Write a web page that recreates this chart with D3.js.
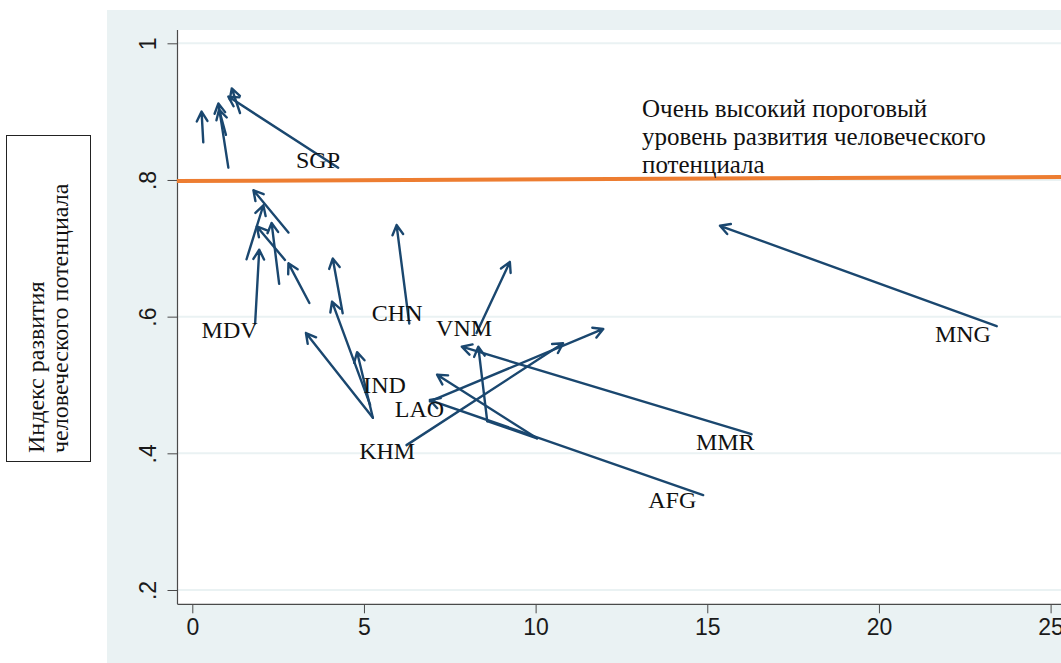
<!DOCTYPE html>
<html>
<head>
<meta charset="utf-8">
<script src="https://cdn.jsdelivr.net/npm/d3@7"></script>
<style>
  html, body { margin: 0; padding: 0; background: #ffffff; }
  svg { display: block; }
</style>
</head>
<body>
<svg id="chart" width="1061" height="663"></svg>
<script>
// ---------- data ----------
const xTicks = [0, 5, 10, 15, 20, 25];
const xTickLabels = ["0", "5", "10", "15", "20", "25"];
const yTicks = [0.2, 0.4, 0.6, 0.8, 1.0];
const yTickLabels = [".2", ".4", ".6", ".8", "1"];

// arrows: tail (x0,y0) -> head (x1,y1)
const arrows = [
  {x0: 0.32, y0: 0.855, x1: 0.27, y1: 0.900},
  {x0: 1.05, y0: 0.818, x1: 0.76, y1: 0.912},
  {x0: 0.98, y0: 0.866, x1: 0.78, y1: 0.903},
  {x0: 4.25, y0: 0.818, x1: 1.05, y1: 0.922},
  {x0: 1.39, y0: 0.898, x1: 1.15, y1: 0.934},
  {x0: 2.80, y0: 0.723, x1: 1.78, y1: 0.785},
  {x0: 1.58, y0: 0.684, x1: 2.07, y1: 0.763},
  {x0: 2.70, y0: 0.683, x1: 1.88, y1: 0.732},
  {x0: 2.53, y0: 0.648, x1: 2.31, y1: 0.737},
  {x0: 1.83, y0: 0.590, x1: 1.95, y1: 0.698},
  {x0: 3.41, y0: 0.620, x1: 2.80, y1: 0.678},
  {x0: 4.38, y0: 0.605, x1: 4.09, y1: 0.685},
  {x0: 6.32, y0: 0.590, x1: 5.95, y1: 0.734},
  {x0: 5.18, y0: 0.471, x1: 4.07, y1: 0.622},
  {x0: 5.26, y0: 0.452, x1: 3.31, y1: 0.576},
  {x0: 5.26, y0: 0.452, x1: 4.80, y1: 0.548},
  {x0: 8.28, y0: 0.576, x1: 9.25, y1: 0.680},
  {x0: 16.29, y0: 0.428, x1: 7.85, y1: 0.556},
  {x0: 8.59, y0: 0.447, x1: 8.33, y1: 0.556},
  {x0: 10.04, y0: 0.422, x1: 7.13, y1: 0.515},
  {x0: 14.88, y0: 0.339, x1: 6.92, y1: 0.478},
  {x0: 6.24, y0: 0.412, x1: 10.80, y1: 0.561},
  {x0: 6.92, y0: 0.476, x1: 11.97, y1: 0.582},
  {x0: 23.43, y0: 0.586, x1: 15.37, y1: 0.733}
];
// plain connecting segments (no head)
const segments = [
  {x0: 10.04, y0: 0.422, x1: 8.59, y1: 0.447}
];

const countries = ["SGP", "MDV", "CHN", "VNM", "IND", "LAO", "KHM", "MMR", "AFG", "MNG"];
const labelX = [3.02, 0.27, 5.23, 7.10, 4.98, 5.90, 4.86, 14.67, 13.28, 21.63];
const labelY = [0.818, 0.569, 0.594, 0.571, 0.489, 0.453, 0.392, 0.405, 0.320, 0.563];

const thresholdLine = {x0: -0.45, y0: 0.7985, x1: 25.8, y1: 0.8045};
const thresholdText = ["Очень высокий пороговый", "уровень развития человеческого", "потенциала"];
const thresholdTextX = 13.1;
const thresholdTextY = 0.892;

const yTitle = ["Индекс развития", "человеческого потенциала"];

// ---------- drawing ----------
const svg = d3.select("#chart");
const W = 1061, H = 663;

const outer = {left: 107, top: 10};
const plot = {left: 177.5, top: 30, right: 1061, bottom: 604.3};

const x = d3.scaleLinear().domain([0, 25]).range([192.3, 1050.6]);
const y = d3.scaleLinear().domain([0.2, 1]).range([590, 43.3]);

// graph region background
svg.append("rect").attr("x", outer.left).attr("y", outer.top)
  .attr("width", W - outer.left).attr("height", H - outer.top)
  .attr("fill", "#eaf2f3");
// plot region
svg.append("rect").attr("x", plot.left).attr("y", plot.top)
  .attr("width", plot.right - plot.left).attr("height", plot.bottom - plot.top)
  .attr("fill", "#ffffff");

// gridlines
svg.append("g").selectAll("line").data(yTicks).join("line")
  .attr("x1", plot.left).attr("x2", plot.right)
  .attr("y1", d => y(d)).attr("y2", d => y(d))
  .attr("stroke", "#eaf2f3").attr("stroke-width", 2);

// axes
const xAxis = d3.axisBottom(x).tickValues(xTicks)
  .tickFormat((d, i) => xTickLabels[i]).tickSize(9).tickPadding(5);
const gx = svg.append("g").attr("transform", `translate(0,${plot.bottom})`).call(xAxis);
gx.select(".domain").remove();
gx.selectAll("line").attr("stroke", "#4a4a4a");
gx.selectAll("text").attr("font-family", "Liberation Sans, Arial, sans-serif")
  .attr("font-size", 23).attr("fill", "#1a1a1a");

const yAxis = d3.axisLeft(y).tickValues(yTicks)
  .tickFormat((d, i) => yTickLabels[i]).tickSize(10);
const gy = svg.append("g").attr("transform", `translate(${plot.left},0)`).call(yAxis);
gy.select(".domain").remove();
gy.selectAll("line").attr("stroke", "#4a4a4a");
gy.selectAll("text")
  .attr("x", 0).attr("dy", 0).attr("text-anchor", "middle")
  .attr("transform", "translate(-22,0) rotate(-90)")
  .attr("font-family", "Liberation Sans, Arial, sans-serif")
  .attr("font-size", 23).attr("fill", "#1a1a1a");

// axis lines
svg.append("line").attr("x1", plot.left).attr("x2", plot.left)
  .attr("y1", plot.top).attr("y2", plot.bottom).attr("stroke", "#4a4a4a").attr("stroke-width", 1.2);
svg.append("line").attr("x1", plot.left).attr("x2", plot.right)
  .attr("y1", plot.bottom).attr("y2", plot.bottom).attr("stroke", "#4a4a4a").attr("stroke-width", 1.2);

// threshold line
svg.append("line")
  .attr("x1", x(thresholdLine.x0)).attr("y1", y(thresholdLine.y0))
  .attr("x2", x(thresholdLine.x1)).attr("y2", y(thresholdLine.y1))
  .attr("stroke", "#ed7d31").attr("stroke-width", 4);

// threshold text
const tt = svg.append("text")
  .attr("font-family", "Liberation Serif, Times New Roman, serif")
  .attr("font-size", 25).attr("fill", "#111");
thresholdText.forEach((s, i) => {
  tt.append("tspan").attr("x", x(thresholdTextX)).attr("y", y(thresholdTextY) + i * 27.8).text(s);
});

// arrows
const navy = "#1a476f";
const gA = svg.append("g").attr("stroke", navy).attr("stroke-width", 2.4)
  .attr("fill", "none").attr("stroke-linecap", "round").attr("stroke-linejoin", "round");
segments.forEach(s => {
  gA.append("line").attr("x1", x(s.x0)).attr("y1", y(s.y0))
    .attr("x2", x(s.x1)).attr("y2", y(s.y1));
});
const headLen = 11, headAng = Math.PI / 6.2;
arrows.forEach(a => {
  const X0 = x(a.x0), Y0 = y(a.y0), X1 = x(a.x1), Y1 = y(a.y1);
  const ang = Math.atan2(Y1 - Y0, X1 - X0);
  const p = d3.path();
  p.moveTo(X0, Y0); p.lineTo(X1, Y1);
  p.moveTo(X1 - headLen * Math.cos(ang - headAng), Y1 - headLen * Math.sin(ang - headAng));
  p.lineTo(X1, Y1);
  p.lineTo(X1 - headLen * Math.cos(ang + headAng), Y1 - headLen * Math.sin(ang + headAng));
  gA.append("path").attr("d", p.toString());
});

// country labels
svg.append("g").selectAll("text").data(countries).join("text")
  .attr("x", (d, i) => x(labelX[i])).attr("y", (d, i) => y(labelY[i]))
  .attr("font-family", "Liberation Serif, Times New Roman, serif")
  .attr("font-size", 24).attr("fill", "#111")
  .text(d => d);

// y-axis title box
svg.append("rect").attr("x", 6.5).attr("y", 135.5).attr("width", 84).attr("height", 326)
  .attr("fill", "#ffffff").attr("stroke", "#222").attr("stroke-width", 1);
const yt = svg.append("text")
  .attr("transform", "translate(0,453) rotate(-90)")
  .attr("font-family", "Liberation Serif, Times New Roman, serif")
  .attr("font-size", 24).attr("fill", "#111");
yTitle.forEach((s, i) => {
  yt.append("tspan").attr("x", 0).attr("y", 44 + i * 23.5).text(s);
});
</script>
</body>
</html>
